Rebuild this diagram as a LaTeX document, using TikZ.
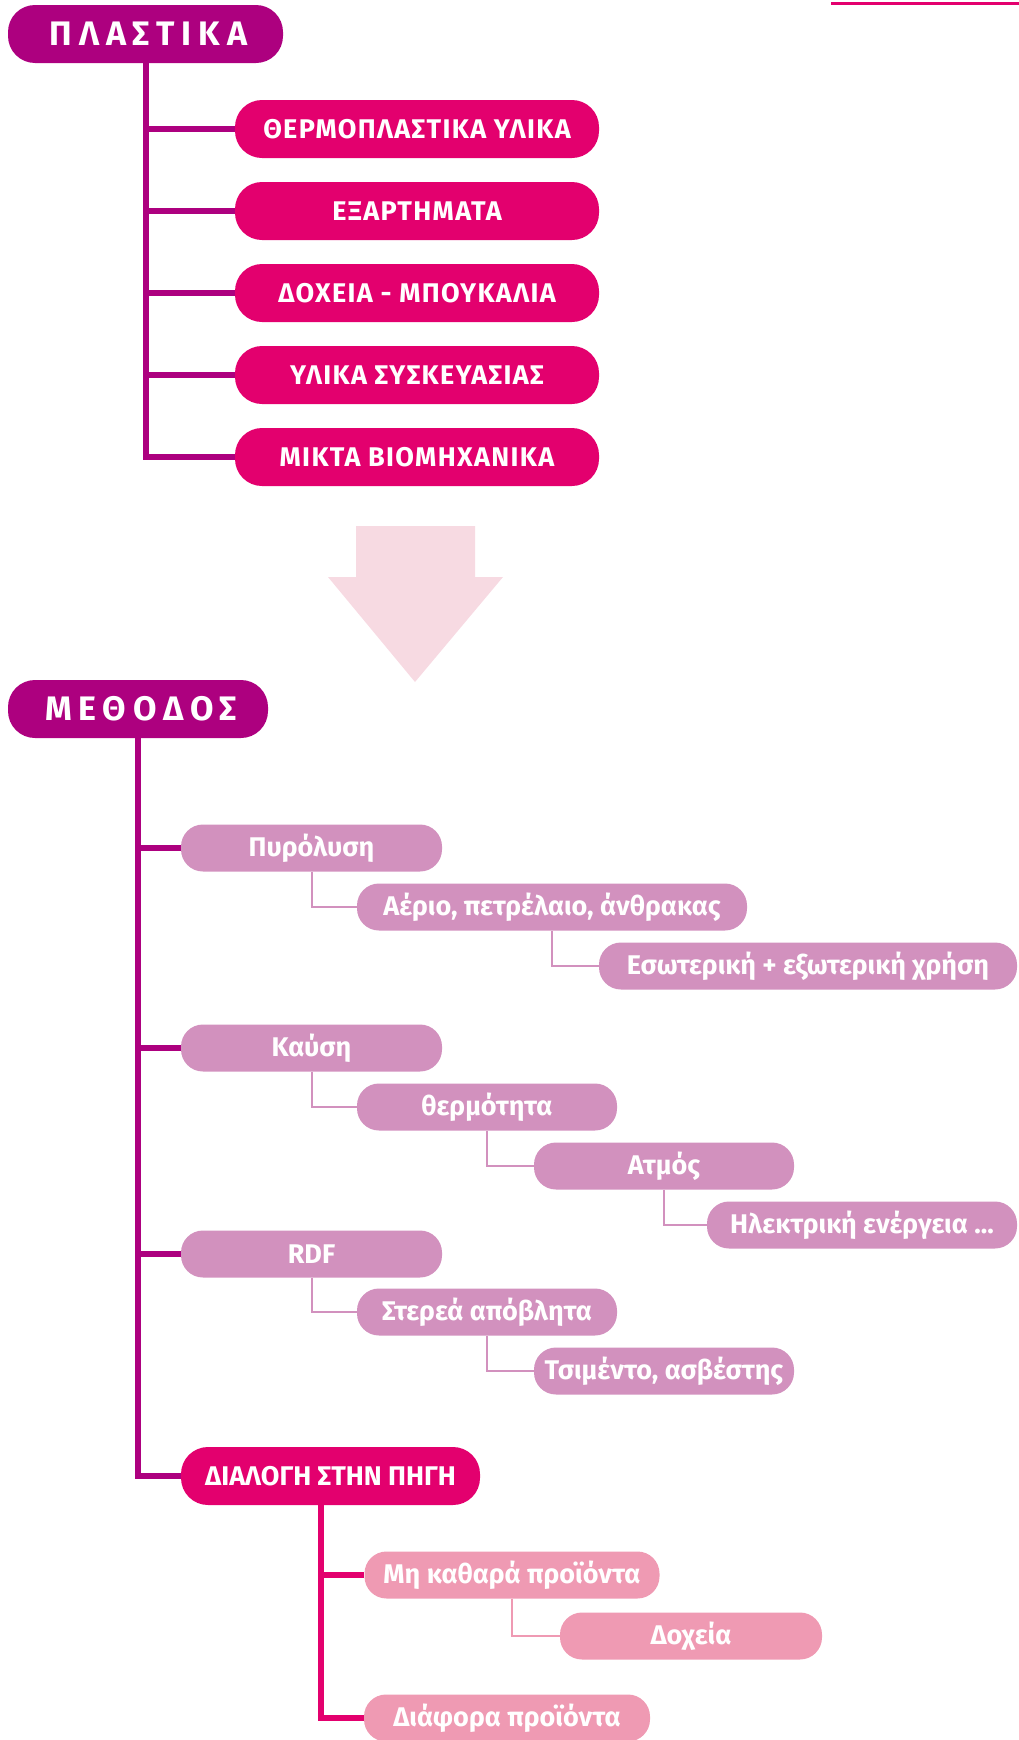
\documentclass[tikz,border=0pt]{standalone}
\usepackage{fontspec}
\setmainfont{Fira Sans}
\newfontfamily\widefont[LetterSpace=20]{Fira Sans}
\newfontfamily\trackfont[LetterSpace=5]{Fira Sans}
\definecolor{plum}{HTML}{AD007F}
\definecolor{rose}{HTML}{E3006E}
\definecolor{lilac}{HTML}{D291BE}
\definecolor{blush}{HTML}{EF9AB3}
\definecolor{petal}{HTML}{F7DAE2}
\begin{document}
\begin{tikzpicture}[x=1pt,y=-1pt,
    pill/.style={text=white,inner sep=0pt,font=\bfseries\fontsize{27}{30}\selectfont},
    headpill/.style={pill,fill=plum,minimum height=58pt,rounded corners=27pt,font=\widefont\bfseries\fontsize{34}{38}\selectfont},
    mainpill/.style={pill,fill=rose,minimum height=58pt,rounded corners=27pt},
    topitem/.style={mainpill,minimum width=364pt,font=\trackfont\bfseries\fontsize{27}{30}\selectfont},
    subpill/.style={pill,fill=lilac,minimum height=47pt,rounded corners=22pt},
    sortpill/.style={pill,fill=blush,minimum height=47pt,rounded corners=22pt},
    trunk/.style={line width=6pt},
    twig/.style={line width=2pt}]
      \useasboundingbox (0,0) rectangle (1019,1740);
      \draw[rose,line width=2.5pt] (831,3.7) -- (1019,3.7);

      \node[headpill,minimum width=275pt] (plast) at (145.5,34) {\hspace{6pt}ΠΛΑΣΤΙΚΑ};
      \node[topitem] (thermo) at (417,129) {ΘΕΡΜΟΠΛΑΣΤΙΚΑ ΥΛΙΚΑ};
      \node[topitem] (parts) at (417,211) {ΕΞΑΡΤΗΜΑΤΑ};
      \node[topitem] (bottles) at (417,293) {ΔΟΧΕΙΑ - ΜΠΟΥΚΑΛΙΑ};
      \node[topitem] (pack) at (417,375) {ΥΛΙΚΑ ΣΥΣΚΕΥΑΣΙΑΣ};
      \node[topitem] (mixed) at (417,457) {ΜΙΚΤΑ ΒΙΟΜΗΧΑΝΙΚΑ};

      \foreach \n in {thermo,parts,bottles,pack}
        \draw[trunk,plum] (plast.south |- \n.west) -- (\n.west);
      \draw[trunk,plum] (plast.south) |- (mixed.west);

      \fill[petal] (356,526) -- (475,526) -- (475,577) -- (503,577) -- (415,682)
        -- (328,577) -- (356,577) -- cycle;

      \node[headpill,minimum width=260pt] (meth) at (138,709) {\hspace{6pt}ΜΕΘΟΔΟΣ};
      \node[subpill,minimum width=261pt] (pyro) at (311.5,848) {Πυρόλυση};
      \node[subpill,minimum width=390pt] (fuel) at (552,907) {Αέριο, πετρέλαιο, άνθρακας};
      \node[subpill,minimum width=418pt] (use) at (808,966) {Εσωτερική + εξωτερική χρήση};
      \node[subpill,minimum width=261pt] (burn) at (311.5,1048) {Καύση};
      \node[subpill,minimum width=260pt] (heat) at (487,1107) {θερμότητα};
      \node[subpill,minimum width=260pt] (steam) at (664,1166) {Ατμός};
      \node[subpill,minimum width=310pt] (power) at (862,1225) {Ηλεκτρική ενέργεια ...};
      \node[subpill,minimum width=261pt] (rdf) at (311.5,1254) {RDF};
      \node[subpill,minimum width=260pt] (solid) at (487,1312) {Στερεά απόβλητα};
      \node[subpill,minimum width=260pt] (cement) at (664,1371) {Τσιμέντο, ασβέστης};
      \node[mainpill,minimum width=299pt] (sort) at (330.5,1476) {ΔΙΑΛΟΓΗ ΣΤΗΝ ΠΗΓΗ};
      \node[sortpill,minimum width=295pt] (impure) at (512,1575) {Μη καθαρά προϊόντα};
      \node[sortpill,minimum width=262pt] (cont) at (691,1636) {Δοχεία};
      \node[sortpill,minimum width=286pt] (misc) at (507,1718) {Διάφορα προϊόντα};

      \foreach \n in {pyro,burn,rdf}
        \draw[trunk,plum] (meth.south |- \n.west) -- (\n.west);
      \draw[trunk,plum] (meth.south) |- (sort.west);

      \draw[twig,lilac] (pyro.south) |- (fuel.west);
      \draw[twig,lilac] (fuel.south) |- (use.west);
      \draw[twig,lilac] (burn.south) |- (heat.west);
      \draw[twig,lilac] (heat.south) |- (steam.west);
      \draw[twig,lilac] (steam.south) |- (power.west);
      \draw[twig,lilac] (rdf.south) |- (solid.west);
      \draw[twig,lilac] (solid.south) |- (cement.west);

      \draw[trunk,rose] ([xshift=-10pt]sort.south) |- (misc.west);
      \draw[trunk,rose] ([xshift=-10pt]sort.south |- impure.west) -- (impure.west);
      \draw[twig,blush] (impure.south) |- (cont.west);
    \end{tikzpicture}
\end{document}
